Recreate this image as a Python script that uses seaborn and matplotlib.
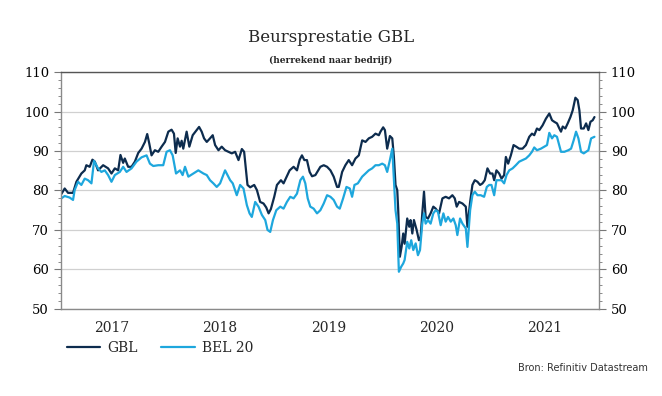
import numpy as np
import pandas as pd
import matplotlib
matplotlib.use("Agg")
import matplotlib.pyplot as plt
from matplotlib.ticker import MultipleLocator, FixedLocator, NullFormatter
import seaborn as sns

# ---- data (time in decimal years, values = index) ----
gbl_t = [2017.034, 2017.065, 2017.096, 2017.142, 2017.173, 2017.219, 2017.25, 2017.265, 2017.296, 2017.321,
         2017.343, 2017.373, 2017.42, 2017.466, 2017.497, 2017.528, 2017.559, 2017.58, 2017.605, 2017.62,
         2017.651, 2017.682, 2017.713, 2017.744, 2017.775, 2017.806, 2017.827, 2017.846, 2017.867, 2017.898,
         2017.929, 2017.96, 2017.991, 2018.022, 2018.052, 2018.074, 2018.09, 2018.108, 2018.13, 2018.145,
         2018.16, 2018.191, 2018.216, 2018.247, 2018.284, 2018.306, 2018.33, 2018.352, 2018.377, 2018.407,
         2018.432, 2018.454, 2018.485, 2018.515, 2018.546, 2018.577, 2018.608, 2018.639, 2018.67, 2018.701,
         2018.722, 2018.753, 2018.778, 2018.815, 2018.84, 2018.87, 2018.901, 2018.926, 2018.948, 2018.969,
         2019.0, 2019.025, 2019.062, 2019.086, 2019.111, 2019.142, 2019.179, 2019.21, 2019.235, 2019.256,
         2019.278, 2019.302, 2019.327, 2019.349, 2019.38, 2019.426, 2019.457, 2019.488, 2019.519, 2019.549,
         2019.58, 2019.596, 2019.627, 2019.657, 2019.688, 2019.719, 2019.75, 2019.781, 2019.812, 2019.843,
         2019.873, 2019.904, 2019.935, 2019.966, 2019.981, 2020.006, 2020.022, 2020.043, 2020.068, 2020.09,
         2020.105, 2020.12, 2020.136, 2020.145, 2020.16, 2020.176, 2020.191, 2020.204, 2020.228, 2020.247,
         2020.259, 2020.275, 2020.29, 2020.315, 2020.336, 2020.352, 2020.367, 2020.383, 2020.398, 2020.42,
         2020.444, 2020.469, 2020.491, 2020.522, 2020.553, 2020.583, 2020.614, 2020.645, 2020.667, 2020.685,
         2020.707, 2020.738, 2020.769, 2020.784, 2020.809, 2020.83, 2020.852, 2020.877, 2020.901, 2020.923,
         2020.944, 2020.969, 2020.994, 2021.015, 2021.031, 2021.052, 2021.077, 2021.099, 2021.123, 2021.139,
         2021.16, 2021.185, 2021.21, 2021.235, 2021.262, 2021.293, 2021.324, 2021.355, 2021.38, 2021.401,
         2021.426, 2021.448, 2021.478, 2021.509, 2021.54, 2021.565, 2021.586, 2021.611, 2021.633, 2021.648,
         2021.664, 2021.688, 2021.71, 2021.735, 2021.756, 2021.781, 2021.802, 2021.818, 2021.833, 2021.858,
         2021.88, 2021.901, 2021.92, 2021.941, 2021.957]
gbl_v = [79.1, 80.5, 79.4, 79.4, 82.2, 84.3, 85.1, 86.4, 86.0, 87.8,
         87.3, 85.1, 86.4, 85.6, 84.3, 85.6, 85.1, 89.0, 87.0, 88.1,
         86.0, 86.0, 87.3, 89.5, 90.6, 92.3, 94.3, 91.9, 88.9, 90.2,
         89.8, 91.1, 92.3, 94.9, 95.4, 94.4, 89.5, 93.2, 91.1, 92.6,
         90.6, 94.9, 91.1, 94.0, 95.3, 96.1, 94.9, 93.2, 92.3, 93.2,
         94.0, 91.5, 90.2, 91.1, 90.2, 89.8, 89.4, 89.8, 87.7, 90.5,
         89.8, 81.4, 80.8, 81.4, 80.1, 77.1, 76.7, 75.7, 74.2, 75.3,
         78.4, 81.4, 82.6, 81.8, 83.3, 85.1, 86.0, 85.1, 87.8, 88.9,
         87.7, 87.7, 84.7, 83.6, 83.9, 86.0, 86.4, 86.0, 85.1, 83.5,
         80.9, 80.9, 84.7, 86.4, 87.7, 86.4, 88.1, 88.9, 92.7, 92.3,
         93.2, 93.6, 94.4, 94.0, 94.9, 96.0, 95.3, 90.6, 93.8, 93.2,
         88.5, 81.4, 80.1, 75.0, 63.2, 65.7, 69.1, 66.5, 72.9, 70.8,
         72.5, 69.1, 72.5, 70.0, 67.4, 68.2, 74.2, 79.7, 73.3, 72.9,
         74.2, 75.9, 75.4, 74.2, 78.0, 78.4, 78.0, 78.8, 78.0, 75.9,
         77.1, 76.7, 75.9, 70.8, 77.1, 81.4, 82.6, 82.2, 81.4, 81.8,
         82.6, 85.6, 84.3, 84.3, 82.6, 85.1, 84.3, 83.0, 83.9, 88.5,
         86.8, 88.9, 91.5, 91.1, 90.6, 90.6, 91.5, 93.6, 94.4, 94.0,
         95.7, 95.3, 96.5, 98.2, 99.5, 97.8, 97.4, 97.0, 95.7, 94.9,
         96.2, 95.7, 97.0, 98.6, 100.3, 103.5, 102.9, 100.3, 95.7, 95.7,
         97.0, 95.3, 97.4, 97.8, 98.6]

bel_t = [2017.034, 2017.065, 2017.111, 2017.142, 2017.157, 2017.188, 2017.219, 2017.25, 2017.281, 2017.312,
         2017.336, 2017.373, 2017.404, 2017.435, 2017.466, 2017.497, 2017.528, 2017.574, 2017.605, 2017.636,
         2017.682, 2017.728, 2017.775, 2017.821, 2017.852, 2017.883, 2017.929, 2017.975, 2018.006, 2018.037,
         2018.062, 2018.093, 2018.13, 2018.154, 2018.176, 2018.207, 2018.253, 2018.299, 2018.346, 2018.377,
         2018.407, 2018.438, 2018.469, 2018.5, 2018.546, 2018.593, 2018.617, 2018.654, 2018.685, 2018.716,
         2018.747, 2018.772, 2018.793, 2018.824, 2018.855, 2018.886, 2018.917, 2018.938, 2018.963, 2018.988,
         2019.019, 2019.056, 2019.086, 2019.117, 2019.148, 2019.179, 2019.21, 2019.241, 2019.265, 2019.287,
         2019.309, 2019.333, 2019.364, 2019.395, 2019.426, 2019.457, 2019.488, 2019.519, 2019.549, 2019.58,
         2019.605, 2019.636, 2019.667, 2019.698, 2019.719, 2019.741, 2019.772, 2019.812, 2019.843, 2019.873,
         2019.904, 2019.935, 2019.966, 2019.997, 2020.022, 2020.043, 2020.068, 2020.09, 2020.105, 2020.12,
         2020.136, 2020.151, 2020.173, 2020.191, 2020.204, 2020.228, 2020.247, 2020.265, 2020.284, 2020.306,
         2020.327, 2020.346, 2020.367, 2020.383, 2020.398, 2020.42, 2020.444, 2020.469, 2020.491, 2020.512,
         2020.537, 2020.562, 2020.583, 2020.605, 2020.63, 2020.654, 2020.676, 2020.691, 2020.716, 2020.738,
         2020.769, 2020.784, 2020.809, 2020.83, 2020.852, 2020.877, 2020.907, 2020.938, 2020.963, 2020.985,
         2021.006, 2021.031, 2021.052, 2021.077, 2021.099, 2021.123, 2021.145, 2021.17, 2021.201, 2021.231,
         2021.262, 2021.293, 2021.324, 2021.355, 2021.38, 2021.401, 2021.426, 2021.463, 2021.494, 2021.519,
         2021.54, 2021.565, 2021.586, 2021.611, 2021.648, 2021.679, 2021.716, 2021.741, 2021.765, 2021.787,
         2021.809, 2021.833, 2021.858, 2021.88, 2021.901, 2021.926, 2021.957]
bel_v = [78.0, 78.6, 78.2, 77.6, 80.1, 82.2, 81.4, 83.0, 82.6, 81.8,
         87.5, 85.6, 84.7, 85.1, 83.9, 82.2, 83.9, 84.7, 86.0, 84.7,
         85.6, 87.3, 88.4, 88.9, 86.8, 86.2, 86.4, 86.4, 89.8, 90.2,
         88.9, 84.3, 85.1, 83.9, 86.0, 83.5, 84.3, 85.1, 84.3, 83.9,
         82.6, 81.8, 80.9, 81.8, 85.1, 82.6, 81.8, 78.8, 81.4, 80.5,
         76.3, 74.2, 73.3, 77.1, 75.9, 73.8, 72.5, 70.0, 69.5, 72.5,
         75.0, 75.9, 75.4, 77.1, 78.4, 78.0, 79.2, 82.6, 83.5, 81.8,
         78.0, 75.9, 75.4, 74.2, 75.0, 76.7, 78.8, 78.4, 77.6, 75.9,
         75.4, 78.0, 80.9, 80.5, 78.4, 81.4, 81.8, 83.5, 84.3, 85.1,
         85.6, 86.4, 86.4, 86.8, 86.4, 84.7, 87.7, 90.6, 82.6, 75.0,
         71.6, 59.4, 60.7, 61.5, 62.4, 67.0, 65.3, 67.4, 64.9, 66.6,
         63.6, 64.9, 71.6, 74.2, 71.6, 72.5, 71.6, 74.2, 75.0, 74.6,
         71.2, 74.2, 72.1, 73.3, 72.1, 72.9, 71.2, 68.7, 72.9, 71.6,
         70.4, 65.7, 75.0, 78.8, 79.7, 78.8, 78.8, 78.4, 80.9, 81.4,
         81.4, 78.8, 82.6, 82.6, 82.6, 81.8, 83.9, 85.1, 85.6, 86.4,
         87.3, 87.7, 88.1, 88.9, 89.8, 90.9, 90.2, 90.6, 91.1, 91.5,
         94.6, 93.2, 94.0, 93.6, 89.8, 89.8, 90.2, 90.6, 92.7, 94.9,
         93.2, 89.8, 89.4, 89.8, 90.2, 93.2, 93.6]

series_names = ["GBL", "BEL 20"]
year_labels = ["2017", "2018", "2019", "2020", "2021"]
title = "Beursprestatie GBL"
subtitle = "(herrekend naar bedrijf)"
source = "Bron: Refinitiv Datastream"

df = pd.concat([
    pd.DataFrame({"t": gbl_t, "v": gbl_v, "reeks": series_names[0]}),
    pd.DataFrame({"t": bel_t, "v": bel_v, "reeks": series_names[1]}),
], ignore_index=True)

sns.set_style("white")
plt.rcParams["font.family"] = ["DejaVu Serif"]

fig = plt.figure(figsize=(6.62, 3.96), dpi=100)
ax = fig.add_axes([0.092, 0.22, 0.813, 0.598])

colors = {"GBL": "#0d2c4e", "BEL 20": "#1ea7dd"}
sns.lineplot(data=df, x="t", y="v", hue="reeks", palette=colors, linewidth=1.6,
             ax=ax, legend=True, sort=False)

ax.set_xlim(2017.03, 2022.0)
ax.set_ylim(50, 110)
ax.set_xlabel("")
ax.set_ylabel("")

# y axis
ax.yaxis.set_major_locator(MultipleLocator(10))
ax.yaxis.set_minor_locator(MultipleLocator(2))
ax.tick_params(axis="y", which="both", left=True, right=True, labelleft=True, labelright=True,
               direction="out", colors="#777777", labelcolor="black", labelsize=9.5)
ax.tick_params(axis="y", which="major", length=5, width=0.8)
ax.tick_params(axis="y", which="minor", length=2.5, width=0.6)
ax.grid(axis="y", which="major", color="#d0d0d0", linewidth=0.9)
ax.grid(axis="x", visible=False)

# x axis: year boundaries, quarterly minor ticks, labels mid-year
years = np.arange(2017, 2023)
ax.xaxis.set_major_locator(FixedLocator(years))
ax.xaxis.set_minor_locator(MultipleLocator(0.25))
ax.xaxis.set_major_formatter(NullFormatter())
ax.tick_params(axis="x", which="major", length=5, width=0.8, colors="#777777", direction="out")
ax.tick_params(axis="x", which="minor", length=2.5, width=0.6, colors="#777777", direction="out")
sec = ax.secondary_xaxis("bottom")
sec.set_xticks(years[:-1] + 0.5)
sec.set_xticklabels(year_labels)
sec.tick_params(length=0, pad=9, labelsize=10)
sec.spines["bottom"].set_visible(False)

for s in ["left", "right", "bottom"]:
    ax.spines[s].set_color("#8a8a8a")
    ax.spines[s].set_linewidth(1.0)
ax.spines["top"].set_color("#555555")
ax.spines["top"].set_linewidth(1.0)

# legend below
h, l = ax.get_legend_handles_labels()
ax.get_legend().remove()
fig.legend(h, l, loc="center left", bbox_to_anchor=(0.101, 0.121), ncol=2, frameon=False,
           fontsize=10, handlelength=2.4, columnspacing=1.7, handletextpad=0.5,
           borderpad=0, borderaxespad=0)

fig.text(0.5, 0.905, title, ha="center", va="center", fontsize=12)
fig.text(0.5, 0.848, subtitle, ha="center", va="center", fontsize=6.5, fontweight="bold")
fig.text(0.978, 0.071, source, ha="right", va="center", fontsize=7, color="#333333",
         family=["DejaVu Sans"])

fig.savefig("out.png", dpi=100)
